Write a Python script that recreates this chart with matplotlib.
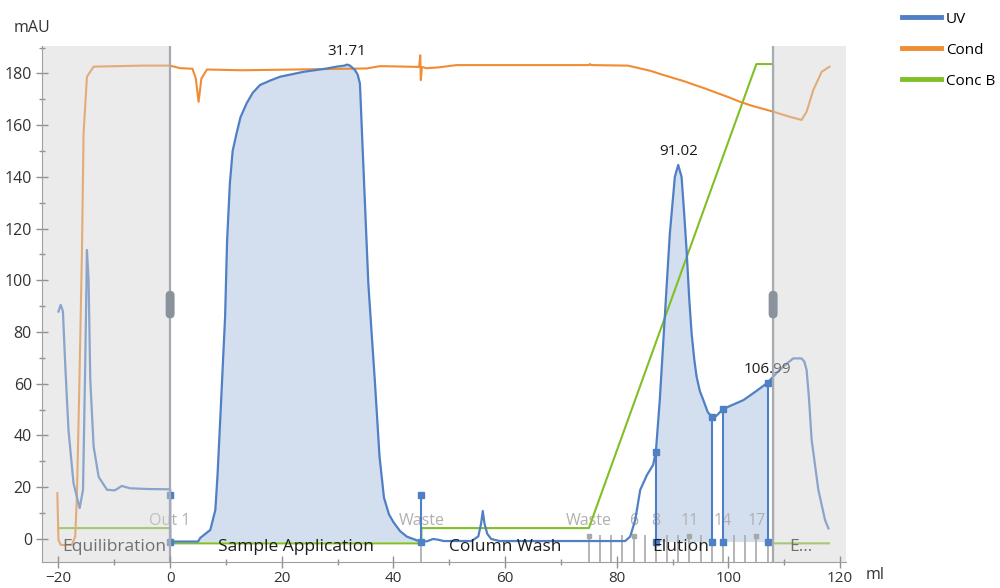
import matplotlib
matplotlib.use('Agg')
import matplotlib.pyplot as plt
from matplotlib.patches import FancyBboxPatch
from matplotlib.lines import Line2D
import numpy as np

plt.rcParams['font.family'] = ['Open Sans', 'DejaVu Sans']

# ---------------- data ----------------
uv_ml = [-20.0, -19.6, -19.2, -18.8, -18.2, -17.3, -16.2, -15.6, -15.2, -14.9, -14.6,
         -14.3, -13.7, -12.8, -11.3, -9.9, -8.65, -7.2, -4.0, 0.0, 0.0, 5.0, 5.4, 7.2,
         8.1, 8.5, 9.0, 9.85, 10.2, 10.7, 11.2, 11.9, 12.6, 13.7, 14.8, 16.1, 18.0, 19.7,
         23.9, 28.1, 29.8, 31.2, 31.7, 32.2, 33.1, 33.6, 34.0, 34.5, 35.5, 36.7, 37.5,
         38.3, 39.2, 40.0, 41.2, 42.4, 44.8, 45.0,
         46.0, 47.1, 48.0, 49.0, 54.0, 55.2, 55.7, 56.0, 56.3, 56.8, 57.5, 59.0, 81.5,
         82.4, 83.3, 84.2, 85.4, 86.5, 87.0, 87.7, 88.1, 88.6, 89.5, 90.4, 91.0, 91.6,
         92.0, 92.5, 93.0, 93.4, 93.9, 94.3, 94.9, 95.5, 96.3, 97.0, 97.8, 99.0, 102.7,
         105.0, 107.0, 108.0, 108.9, 109.8, 111.6, 113.1, 113.6, 114.0, 114.4, 114.9,
         116.1, 117.3, 117.9]
uv_mau = [87.9, 90.5, 88.0, 68.0, 42.0, 21.5, 11.9, 19.0, 68.0, 111.7, 100.0,
          61.5, 35.7, 24.0, 19.0, 18.8, 20.5, 19.6, 19.3, 19.2, -1.0, -1.0, 0.4, 3.5,
          11.2, 25.0, 47.3, 86.0, 115.0, 137.5, 150.0, 156.8, 163.0, 168.4, 172.5, 175.5, 177.3, 178.7,
          180.6, 181.9, 182.6, 183.0, 183.4, 183.0, 181.3, 179.5, 176.0, 150.0, 98.8, 60.0, 32.0,
          16.0, 9.5, 6.5, 3.0, 0.9, -1.0, -1.0,
          -0.9, 0.0, -0.3, -0.8, -0.8, 1.0, 6.0, 10.8, 6.0, 2.0, 0.0, -0.8, -0.8,
          0.9, 7.3, 19.0, 24.7, 28.6, 33.7, 53.7, 68.0, 86.0, 118.0, 140.0, 144.6, 140.0,
          128.0, 111.7, 92.0, 79.5, 69.0, 62.7, 57.0, 53.7, 49.0, 47.3, 47.5, 50.2, 53.7,
          57.2, 60.4, 62.7, 64.8, 66.6, 69.8, 69.8, 68.5, 65.3, 55.0, 38.3,
          19.0, 7.3, 4.1]

cond_ml = [-20.2, -20.0, -19.6, -17.6, -17.0, -16.7, -16.3, -15.8, -15.5, -14.9, -13.7,
           -5.0, 0.0, 1.8, 4.0, 4.6, 5.1, 5.6, 6.6, 12.9, 25.6, 35.2, 37.6, 44.6, 44.8,
           44.9, 45.1, 45.9, 48.0, 51.3, 75.0, 75.2, 75.4, 82.0, 84.2, 86.0, 88.0, 92.0,
           96.0, 100.0, 102.1, 104.0, 108.0, 111.0, 113.1, 114.0, 115.2, 116.7, 118.1]
cond_val = [17.7, -0.4, -2.3, -2.3, 0.9, 16.4, 55.0, 110.0, 156.8, 178.7, 182.6,
            183.0, 183.0, 182.0, 181.8, 178.0, 169.0, 178.0, 181.5, 181.2, 181.6, 181.9, 182.8, 182.5, 187.0,
            177.4, 182.5, 182.0, 182.3, 183.2, 183.2, 183.6, 183.2, 183.0, 181.9, 181.0, 179.6, 177.0,
            174.0, 170.8, 169.0, 167.6, 165.2, 163.2, 162.0, 165.2, 173.6, 180.6, 182.6]

concb_ml = [-20.0, 0.0, 0.0, 45.0, 45.0, 75.0, 105.0, 108.0, 108.0, 118.0]
concb_val = [4.2, 4.2, -1.7, -1.7, 4.2, 4.2, 183.6, 183.6, -1.7, -1.7]

phase_names = ["Equilibration", "Sample Application", "Column Wash", "Elution", "E..."]
phase_bounds = [-20, 0, 45, 75, 108, 118]

frac_label_ml = [0, 45, 75, 83, 87, 93, 99, 105]
frac_label_text = ["Out 1", "Waste", "Waste", "6", "8", "11", "14", "17"]
frac_tick_ml = [45, 75, 77, 79, 81, 83, 85, 87, 89, 91, 93, 95, 97, 99, 101, 103, 105, 107]

mark_ml = [0, 45, 87, 97, 99, 107]
mark_top = [17.0, 17.0, 33.7, 47.3, 50.2, 60.4]

peak_ml = [31.71, 91.02, 106.99]
peak_val = [183.4, 144.6, 60.4]
peak_text = ["31.71", "91.02", "106.99"]

pool_ranges = [(0, 45), (87, 97), (99, 107)]

# ---------------- styling ----------------
c_uv = '#4f7fc4'
c_fill = '#d3deef'
c_cond = '#f08c32'
c_concb = '#80c026'

fig = plt.figure(figsize=(10, 5.88), dpi=100)
ax = fig.add_axes([0.0417, 0.0447, 0.804, 0.8767])
ax.set_xlim(-23, 121)
ax.set_ylim(-8.8, 190.5)
ymin = ax.get_ylim()[0]

x_uv = np.array(uv_ml)
y_uv = np.array(uv_mau)
for a, b in pool_ranges:
    m = (x_uv >= a) & (x_uv <= b)
    ax.fill_between(x_uv[m], y_uv[m], -1.0, color=c_fill, lw=0, zorder=1)

# fraction ticks
ax.vlines(frac_tick_ml, ymin, 1.5, color='#b0b0b0', lw=1.3, zorder=1.4)
ax.plot([frac_label_ml[i] for i in (2, 3, 5, 7)], [1.2] * 4, 's', ms=3, color='#a8a8a8', zorder=1.45)
for x, t in zip(frac_label_ml, frac_label_text):
    ax.text(x, 7, t, ha='center', va='center', fontsize=11.5, color='#b0b0b0', zorder=1.5)

ax.plot(concb_ml, concb_val, color=c_concb, lw=1.5, zorder=1.8)
ax.plot(cond_ml, cond_val, color=c_cond, lw=1.5, zorder=1.9)
ax.plot(uv_ml, uv_mau, color=c_uv, lw=1.6, zorder=2.0, solid_joinstyle='round')

ax.vlines(mark_ml, -1.0, mark_top, color=c_uv, lw=1.5, zorder=2.05)
ax.plot(mark_ml, mark_top, 's', ms=5, color=c_uv, zorder=2.06)
ax.plot(mark_ml, [-1.0] * len(mark_ml), 's', ms=5, color=c_uv, zorder=2.06)

for i, name in enumerate(phase_names):
    cx = (phase_bounds[i] + phase_bounds[i + 1]) / 2
    ax.text(cx, -3.2, name, ha='center', va='center', fontsize=12.5, color='#1e1e1e', zorder=2.1)

for x, v, t in zip(peak_ml, peak_val, peak_text):
    ax.annotate(t, (x, v), xytext=(0, 4), textcoords='offset points', ha='center',
                va='bottom', fontsize=11, color='#1a1a1a', zorder=2.15)

# gray overlays outside the run window
ax.axvspan(-23, phase_bounds[1], color='#d3d3d3', alpha=0.45, lw=0, zorder=2.3)
ax.axvspan(phase_bounds[4], 121, color='#d3d3d3', alpha=0.45, lw=0, zorder=2.3)
for xb in (phase_bounds[1], phase_bounds[4]):
    ax.axvline(xb, color='#a6aab2', lw=1.6, zorder=2.35)
    hw = 0.8
    ax.add_patch(FancyBboxPatch((xb - hw, 85.3), 2 * hw, 10.6,
                                boxstyle='round,pad=0,rounding_size=0.8',
                                mutation_aspect=2.16, fc='#8a929c', ec='none', zorder=2.4))

ax.set_xticks(range(-20, 121, 20))
ax.set_xticks(range(-10, 111, 20), minor=True)
ax.set_yticks(range(0, 181, 20))
ax.set_yticks(range(10, 191, 20), minor=True)
ax.tick_params(which='major', direction='inout', length=8, width=1, color='#909090',
               labelsize=11, labelcolor='#333333')
ax.tick_params(axis='x', which='major', pad=2.5, labelsize=11)
ax.tick_params(axis='y', which='major', pad=3, labelsize=11.5)
ax.tick_params(which='minor', direction='inout', length=5, width=1, color='#909090')
ax.set_axisbelow(False)
for s in ('top', 'right'):
    ax.spines[s].set_visible(False)
for s in ('left', 'bottom'):
    ax.spines[s].set_color('#a0a0a0')
    ax.spines[s].set_zorder(2.6)

fig.text(0.014, 0.952, 'mAU', fontsize=11.5, va='center', color='#333333')
fig.text(0.866, 0.022, 'ml', fontsize=11.5, va='center', color='#333333')

handles = [Line2D([], [], color=c_uv, lw=3.5), Line2D([], [], color=c_cond, lw=3.5),
           Line2D([], [], color=c_concb, lw=3.5)]
fig.legend(handles, ['UV', 'Cond', 'Conc B'], loc='upper left', bbox_to_anchor=(0.9015, 0.98),
           frameon=False, fontsize=11, handlelength=2.6, handletextpad=0.3,
           labelspacing=1.05, borderpad=0, borderaxespad=0)

fig.savefig('out.png', dpi=100)
